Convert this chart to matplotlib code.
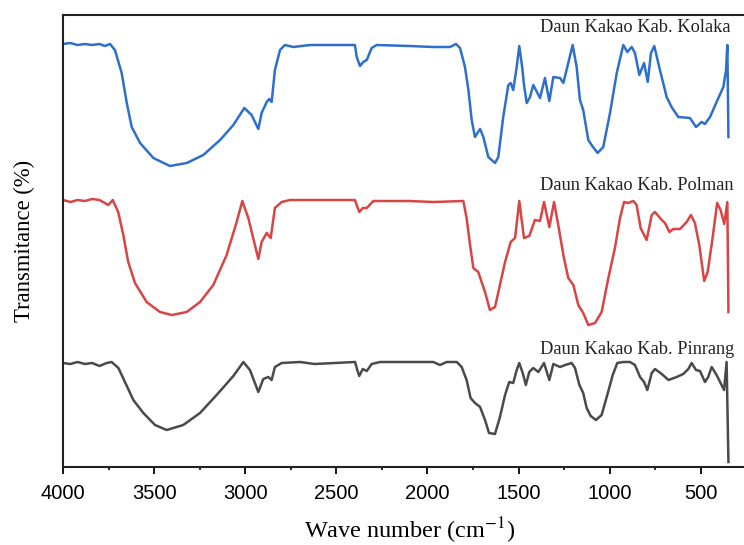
import matplotlib
matplotlib.use("Agg")
import matplotlib.pyplot as plt
from matplotlib.ticker import MultipleLocator

plt.rcParams["mathtext.fontset"] = "stix"

# FTIR spectra, offset transmittance (a.u.)
kolaka_wn = [4000, 3960, 3920, 3880, 3840, 3800, 3770, 3742, 3715, 3678, 3650, 3623, 3577,
             3504, 3413, 3321, 3230, 3138, 3065, 3005, 2965, 2928, 2910, 2882, 2868, 2855,
             2837, 2809, 2782, 2736, 2644, 2500, 2398, 2388, 2370, 2352, 2333, 2306, 2278,
             2100, 1968, 1876, 1843, 1821, 1794, 1775, 1757, 1739, 1711, 1693, 1666, 1629,
             1611, 1584, 1556, 1543, 1529, 1510, 1496, 1480, 1470, 1455, 1437, 1419, 1382,
             1355, 1331, 1309, 1272, 1254, 1227, 1203, 1181, 1163, 1145, 1117, 1099, 1066,
             1035, 998, 961, 925, 903, 879, 861, 837, 811, 791, 773, 755, 724, 687, 660,
             623, 559, 526, 495, 477, 449, 413, 376, 361, 354, 348]
kolaka_t = [423, 424, 422, 423, 422, 423, 421, 423, 417, 394, 364, 340, 324,
            309, 301, 304, 312, 327, 342, 359, 352, 338, 354, 365, 368, 365,
            397, 417, 422, 420, 422, 422, 422, 410, 401, 405, 407, 419, 422,
            421, 420, 420, 423, 419, 400, 377, 347, 330, 338, 330, 310, 304,
            310, 350, 382, 384, 377, 400, 421, 400, 382, 364, 370, 382, 369,
            389, 366, 390, 389, 384, 404, 422, 400, 367, 357, 327, 322, 314,
            320, 354, 394, 422, 415, 420, 414, 392, 404, 385, 414, 421, 397, 370, 360,
            350, 349, 340, 345, 343, 350, 365, 380, 397, 422, 330]

polman_wn = [4000, 3960, 3920, 3880, 3840, 3800, 3751, 3727, 3697, 3669, 3642, 3605, 3541,
             3468, 3403, 3321, 3248, 3175, 3102, 3047, 3016, 2983, 2928, 2910, 2882, 2860,
             2837, 2800, 2754, 2600, 2398, 2388, 2374, 2355, 2333, 2297, 2100, 1968, 1803,
             1785, 1766, 1748, 1721, 1684, 1657, 1629, 1602, 1574, 1543, 1519, 1496, 1470,
             1441, 1410, 1382, 1360, 1331, 1305, 1282, 1254, 1227, 1199, 1172, 1145, 1117,
             1080, 1044, 1007, 971, 943, 921, 898, 870, 852, 830, 797, 769, 751, 714, 696,
             672, 651, 614, 577, 554, 532, 508, 481, 462, 435, 410, 391, 371, 354, 348]
polman_t = [267, 265, 267, 266, 268, 267, 262, 267, 255, 232, 205, 184, 165,
            155, 152, 155, 165, 182, 212, 245, 266, 249, 208, 225, 234, 229,
            259, 265, 267, 267, 267, 262, 255, 259, 259, 266, 266, 265, 266,
            249, 222, 199, 195, 175, 157, 160, 182, 205, 225, 229, 266, 229,
            231, 247, 246, 265, 240, 265, 242, 212, 189, 182, 162, 154, 142,
            144, 155, 189, 219, 249, 265, 264, 266, 262, 239, 227, 252, 255, 247, 244,
            235, 238, 238, 245, 252, 244, 222, 186, 195, 229, 264, 257, 243, 265, 155]

pinrang_wn = [4000, 3960, 3920, 3880, 3840, 3800, 3760, 3733, 3696, 3660, 3614, 3559, 3495,
              3431, 3340, 3248, 3157, 3065, 3010, 2974, 2928, 2901, 2873, 2855, 2837, 2800,
              2699, 2620, 2397, 2385, 2374, 2355, 2333, 2306, 2260, 1968, 1931, 1894, 1839,
              1812, 1785, 1763, 1739, 1711, 1684, 1662, 1629, 1602, 1574, 1551, 1529, 1510,
              1496, 1477, 1460, 1441, 1419, 1391, 1360, 1331, 1309, 1272, 1245, 1208, 1190,
              1166, 1145, 1126, 1104, 1075, 1044, 1013, 983, 958, 925, 888, 861, 833, 811,
              793, 769, 751, 714, 677, 632, 596, 568, 550, 526, 504, 477, 459, 440, 413,
              394, 372, 358, 348]
pinrang_t = [104, 103, 105, 103, 104, 101, 104, 105, 99, 85, 67, 54, 42,
             37, 42, 54, 72, 91, 105, 97, 75, 88, 90, 87, 100, 104,
             105, 103, 105, 97, 91, 98, 96, 103, 105, 105, 102, 105, 105,
             100, 87, 69, 64, 60, 47, 34, 33, 50, 72, 85, 84, 97,
             104, 94, 82, 95, 99, 95, 104, 87, 103, 100, 102, 104, 99,
             82, 74, 59, 51, 47, 52, 72, 92, 104, 105, 105, 102, 90, 85,
             77, 94, 98, 93, 87, 90, 93, 98, 104, 97, 96, 85, 90, 100, 92,
             85, 77, 105, 5]

labels = ["Daun Kakao Kab. Kolaka", "Daun Kakao Kab. Polman", "Daun Kakao Kab. Pinrang"]
label_y = [439, 282, 118]
colors = ["#2F6FCC", "#D94444", "#4A4A4A"]

fig = plt.figure(figsize=(7.44, 5.45), dpi=100)
# axes runs past the right edge like in the cropped original
ax = fig.add_axes([63 / 744, 78 / 545, 692.4 / 744, 452 / 545])

series = [(kolaka_wn, kolaka_t), (polman_wn, polman_t), (pinrang_wn, pinrang_t)]
for (wn, t), c in zip(series, colors):
    ax.plot(wn, t, color=c, lw=1.8, solid_joinstyle="round")

# labels pulled in a touch so they stay inside the canvas
for lab, ly in zip(labels, label_y):
    ax.text(1380, ly, lab, ha="left", va="center", fontsize=13.2,
            family="Liberation Serif", color="#222222")

ax.set_xlim(4000, 200)
ax.set_ylim(0, 452)
ax.xaxis.set_major_locator(MultipleLocator(500))
ax.xaxis.set_minor_locator(MultipleLocator(250))
ax.set_yticks([])
ax.tick_params(axis="x", which="major", direction="out", length=5, width=1.3,
               pad=7, labelsize=14.5, labelfontfamily="Liberation Sans")
ax.tick_params(axis="x", which="minor", direction="out", length=2.5, width=1.2)
for sp in ax.spines.values():
    sp.set_linewidth(1.5)
    sp.set_color("#222222")

ax.set_xlabel("Wave number (cm$^{-1}$)", fontsize=17.5, family="Liberation Serif",
              labelpad=9)
ax.set_ylabel("Transmitance (%)", fontsize=16.3, family="Liberation Serif", labelpad=20)

fig.savefig("out.png", dpi=100)
